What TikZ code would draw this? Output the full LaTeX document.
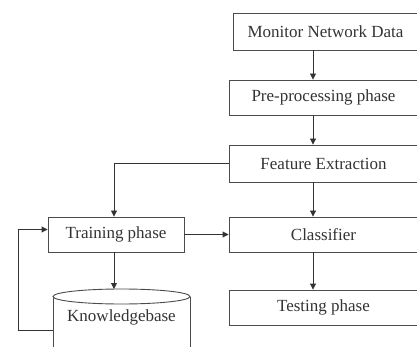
\documentclass[tikz,border=0pt]{standalone}
\usepackage{fontspec}
\setmainfont{Liberation Serif}
\usetikzlibrary{arrows.meta}

\begin{document}
\begin{tikzpicture}[x=1pt, y=-1pt, line width=0.9pt, draw=black!75,
    box/.style={draw=black!70, minimum height=35pt, inner sep=0pt,
                text=black!80, font=\fontsize{17}{20}\selectfont},
    arr/.style={-{Triangle[length=6pt,width=6pt]}, black!80}]
    \useasboundingbox (0,0) rectangle (417,347);

    % Right column
    \node[box, minimum width=185pt, minimum height=37pt] (mon) at (325.5,31.5) {Monitor Network Data};
    \node[box, minimum width=189pt] (pre) at (323.5,97.5) {Pre-processing phase};
    \node[box, minimum width=189pt, minimum height=37pt] (feat) at (323.5,163.5) {Feature Extraction};
    \node[box, minimum width=189pt] (cls) at (323.5,234.5) {Classifier};
    \node[box, minimum width=189pt] (test) at (323.5,307.5) {Testing phase};

    % Left column
    \node[box, minimum width=136pt] (train) at (116,234.5) {Training phase};

    % Knowledgebase (cylinder, cut at the bottom)
    \draw[black!70] (53,296.5) -- (53,350) (190,296.5) -- (190,350);
    \draw[black!70, fill=white] (121.5,296.5) ellipse (68.5 and 7.5);
    \node[box, draw=none, minimum height=0pt] (kb) at (121.5,317) {Knowledgebase};
    \coordinate (kbtop) at (114,289);
    \coordinate (kbleft) at (53,330);

    % Arrows
    \coordinate (ax) at (313,0);
    \draw[arr] (mon.south -| ax) -- (pre.north -| ax);
    \draw[arr] (pre.south -| ax) -- (feat.north -| ax);
    \draw[arr] (feat.south -| ax) -- (cls.north -| ax);
    \draw[arr] (cls.south -| ax) -- (test.north -| ax);
    \draw[arr] (feat.west) -| (train.north -| kbtop);
    \draw[arr] (train.east) -- (cls.west);
    \draw[arr] (train.south -| kbtop) -- (kbtop);
    \draw[arr] (kbleft) -- (18,330) |- ([yshift=5pt]train.west);

\end{tikzpicture}
\end{document}
